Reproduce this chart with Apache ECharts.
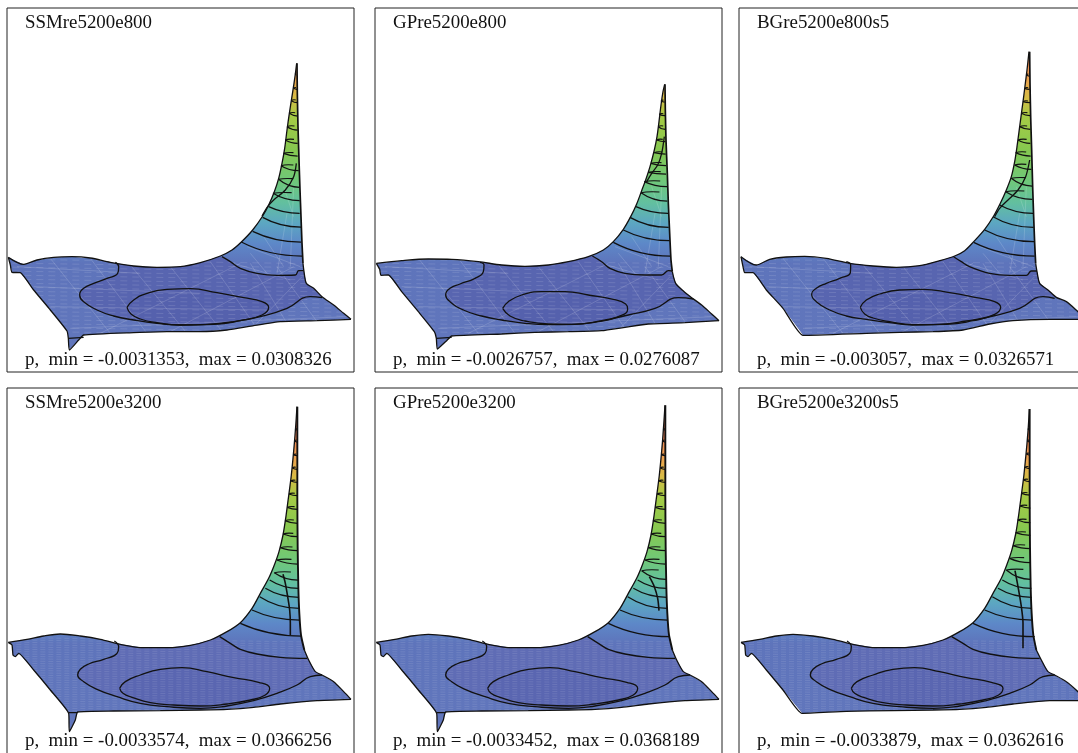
<!DOCTYPE html>
<html><head><meta charset="utf-8">
<style>html,body{margin:0;padding:0;background:#fff;overflow:hidden}#c{width:1078px;height:753px}</style>
<script src="https://cdn.jsdelivr.net/npm/echarts@6/dist/echarts.min.js"></script>
</head><body><div id="c"></div>
<script>
// Shared colour scale: height on the picture -> surface colour
const heightY = [150,230,290,350,450,540,610,670,730,790,1010];
const heightColor = ['#ee7a55','#eea050','#d8bb45','#a5cb45','#86c850','#70c878','#62bfa0','#5ca6c2','#5d88c8','#5e74bb','#6176bc'];

// Panel labels
const titles = ['SSMre5200e800','GPre5200e800','BGre5200e800s5','SSMre5200e3200','GPre5200e3200','BGre5200e3200s5'];
const captions = [
 'p,  min = -0.0031353,  max = 0.0308326','p,  min = -0.0026757,  max = 0.0276087','p,  min = -0.003057,  max = 0.0326571',
 'p,  min = -0.0033574,  max = 0.0366256','p,  min = -0.0033452,  max = 0.0368189','p,  min = -0.0033879,  max = 0.0362616'];

// Panel 1
const top1 = [[24,772],[70,793],[110,780],[160,772],[215,770],[270,774],[330,787],[400,798],[470,802],[540,800],[600,788],[660,768],[695,750],[723,726],[757,690],[787,648],[805,615],[822,575],[835,535],[845,490],[853,445],[860,390],[867,340],[874,295],[881,250],[885,222],[889,190]];
const edge1 = [[890,190],[891,280],[893,380],[896,480],[899,570],[902,650],[905,730],[908,790],[911,815],[918,850],[940,865],[965,890],[1000,915],[1030,940],[1052,958]];
const front1 = [[1052,958],[950,962],[840,965],[760,977],[680,990],[600,995],[500,995],[400,998],[250,1005],[235,1020],[207,1050],[204,1015],[200,993],[150,930],[100,870],[60,818],[35,817],[30,795],[24,772]];
const outer1 = [[345,787],[355,800],[352,820],[320,835],[280,850],[250,865],[238,885],[250,905],[290,930],[340,948],[400,960],[470,970],[540,975],[620,973],[700,965],[780,950],[860,925],[930,890],[965,893]];
const inner1 = [[380,922],[400,900],[440,880],[500,868],[570,866],[650,878],[730,893],[785,905],[805,922],[785,945],[720,962],[640,973],[540,975],[470,968],[420,957],[392,942],[380,922]];
const corner1 = [[665,770],[690,785],[720,805],[770,820],[830,826],[885,825],[895,812],[910,812]];
const back1 = [[888,490],[880,530],[855,570],[820,600],[802,620],[785,648]];
const rungs1 = [[723,726,905,768],[757,694,902,726],[787,652,902,681],[805,620,898,640],[818,580,898,602],[835,538,898,562],[842,497,895,512],[850,460,892,468],[855,420,892,430],[860,380,892,390],[867,340,892,348],[873,302,892,308],[880,265,890,268],[885,222,888,225]];
const crease1 = [[204,1015],[250,1012]];

// Panel 2
const top2 = [[24,790],[100,782],[180,777],[250,778],[330,785],[400,795],[470,799],[540,795],[600,785],[660,770],[705,750],[735,725],[765,688],[787,650],[805,612],[820,572],[832,540],[845,500],[858,450],[866,410],[872,365],[878,315],[884,275],[889,253]];
const edge2 = [[890,253],[891,330],[893,420],[897,520],[900,610],[904,700],[908,780],[912,815],[922,850],[945,873],[970,893],[1000,915],[1030,942],[1052,962]];
const front2 = [[1052,962],[950,968],[840,972],[770,982],[700,992],[600,995],[500,997],[400,1002],[250,1008],[235,1022],[207,1047],[204,1015],[198,995],[150,935],[100,875],[60,825],[38,826],[34,808],[24,790]];
const outer2 = [[335,787],[347,795],[345,815],[320,835],[275,852],[245,865],[232,885],[245,905],[285,930],[340,948],[400,960],[470,970],[540,974],[620,973],[700,962],[780,945],[860,925],[930,893],[975,897]];
const inner2 = [[403,925],[420,905],[460,885],[520,875],[590,875],[660,885],[735,898],[772,912],[778,928],[750,950],[690,965],[610,973],[540,972],[470,963],[425,948],[403,925]];
const corner2 = [[672,768],[700,785],[725,805],[770,820],[830,825],[880,825],[900,812],[912,813]];
const back2 = [[888,410],[880,460],[868,495],[850,520],[835,545]];
const rungs2 = [[735,727,906,768],[765,690,904,722],[785,652,901,682],[803,620,899,640],[818,578,897,603],[828,545,896,560],[840,517,893,522],[848,490,893,497],[858,458,892,462],[865,420,891,425],[870,380,891,388],[873,343,890,347],[878,303,889,306]];
const crease2 = [[204,1015],[250,1012]];

// Panel 3
const top3 = [[24,770],[70,795],[110,778],[160,771],[215,769],[280,775],[350,790],[420,798],[490,802],[560,797],[620,782],[665,768],[695,752],[722,725],[755,688],[782,648],[802,610],[820,570],[835,530],[845,485],[852,440],[860,380],[866,335],[872,290],[877,250],[882,210],[888,155]];
const edge3 = [[890,155],[891,250],[893,350],[896,450],[899,560],[902,650],[905,730],[908,790],[912,815],[920,850],[945,870],[970,892],[1000,905],[1035,935],[1060,958]];
const front3 = [[1060,958],[950,958],[840,962],[770,972],[690,990],[600,995],[500,997],[400,1000],[210,1006],[150,925],[100,870],[60,818],[35,818],[30,800],[24,770]];
const outer3 = [[340,785],[353,795],[352,818],[320,835],[280,850],[250,865],[236,882],[250,905],[290,930],[340,948],[400,958],[470,968],[540,975],[620,973],[700,963],[780,948],[860,925],[930,890],[965,895]];
const inner3 = [[382,922],[400,900],[440,882],[500,870],[570,868],[650,878],[730,893],[785,905],[803,922],[785,943],[720,962],[640,973],[540,974],[470,965],[420,954],[395,942],[382,922]];
const corner3 = [[662,770],[685,785],[710,800],[770,820],[830,826],[880,826],[895,813],[912,813]];
const back3 = [[890,480],[878,530],[855,570],[825,600],[800,625],[785,650]];
const rungs3 = [[722,727,905,768],[755,690,903,725],[780,650,902,682],[800,615,900,640],[818,575,898,598],[835,535,897,558],[845,495,895,508],[848,458,893,468],[855,420,892,430],[860,380,892,388],[865,340,891,347],[870,305,891,308],[875,265,890,268],[880,225,889,228]];
const crease3 = [];

// Panel 4
const top4 = [[24,787],[80,778],[130,768],[180,762],[240,768],[300,778],[360,793],[430,803],[500,803],[570,796],[630,780],[680,755],[720,728],[755,685],[780,640],[805,595],[822,555],[836,515],[848,465],[856,415],[862,370],[868,325],[873,285],[878,235],[882,190],[886,140],[890,80]];
const edge4 = [[891,80],[891,200],[891,350],[892,500],[894,620],[897,700],[902,765],[912,810],[925,840],[945,875],[965,885],[1000,905],[1030,935],[1052,958]];
const front4 = [[1052,958],[950,962],[840,972],[760,982],[680,988],[600,990],[480,992],[340,993],[232,996],[225,1020],[207,1055],[205,1000],[150,930],[100,870],[55,820],[45,830],[38,825],[35,795],[24,787]];
const outer4 = [[342,783],[355,800],[350,820],[310,838],[265,852],[240,868],[232,885],[250,905],[290,928],[350,950],[420,970],[500,980],[600,985],[680,978],[760,962],[830,940],[890,915],[930,890],[965,885]];
const inner4 = [[358,925],[375,905],[420,885],[480,868],[545,863],[620,875],[700,893],[775,907],[808,925],[795,945],[750,960],[680,972],[600,978],[520,975],[450,968],[395,952],[368,940],[358,925]];
const corner4 = [[658,770],[690,790],[720,808],[770,822],[840,832],[920,835]];
const back4 = [[848,583],[855,610],[862,650],[868,690],[870,730],[870,765]];
const rungs4 = [[720,730,905,768],[755,690,898,720],[778,650,897,685],[795,625,896,652],[808,600,895,625],[822,578,893,600],[830,540,892,552],[840,503,892,512],[848,462,892,470],[854,422,892,430],[861,382,892,388],[866,342,891,347],[872,303,891,307],[876,264,891,268],[880,225,891,227],[883,183,891,186],[885,148,891,150]];
const crease4 = [[205,998],[232,998]];

// Panel 5
const top5 = [[24,787],[80,778],[130,768],[180,763],[240,768],[300,778],[360,793],[430,803],[500,803],[570,796],[630,780],[680,755],[720,728],[755,685],[780,640],[805,595],[822,555],[836,515],[848,465],[856,415],[862,370],[868,325],[873,285],[878,235],[882,190],[886,136],[890,76]];
const edge5 = [[891,76],[891,200],[891,350],[892,500],[894,620],[897,700],[902,765],[912,810],[925,840],[945,875],[965,885],[1000,905],[1030,935],[1052,958]];
const front5 = [[1052,958],[950,962],[840,972],[760,982],[680,988],[600,990],[480,992],[340,993],[232,996],[225,1020],[207,1055],[205,1000],[150,930],[100,870],[55,820],[45,830],[38,825],[35,795],[24,787]];
const outer5 = [[342,783],[355,800],[350,820],[310,838],[265,852],[240,868],[232,885],[250,905],[290,928],[350,950],[420,970],[500,980],[600,985],[680,978],[760,962],[830,940],[890,915],[930,890],[965,885]];
const inner5 = [[358,925],[375,905],[420,885],[480,868],[545,863],[620,875],[700,893],[775,907],[808,925],[795,945],[750,960],[680,972],[600,978],[520,975],[450,968],[395,952],[368,940],[358,925]];
const corner5 = [[658,770],[690,790],[720,808],[770,822],[840,832],[920,835]];
const back5 = [[843,590],[858,620],[868,655],[872,692]];
const rungs5 = [[720,730,905,770],[755,690,898,720],[778,650,897,685],[795,625,896,652],[808,600,895,625],[820,572,893,598],[830,540,892,552],[840,503,892,512],[848,462,892,470],[854,422,892,430],[861,382,892,388],[866,342,891,347],[872,303,891,307],[876,264,891,268],[880,225,891,227],[883,183,891,186],[885,148,891,150]];
const crease5 = [[205,998],[232,998]];

// Panel 6
const top6 = [[24,787],[80,778],[130,768],[180,763],[240,768],[300,778],[360,793],[430,803],[500,803],[570,796],[630,780],[680,755],[720,728],[755,685],[780,640],[805,595],[822,553],[836,512],[848,462],[856,412],[862,368],[868,323],[873,283],[878,233],[882,190],[886,140],[889,87]];
const edge6 = [[890,87],[890,200],[890,350],[891,500],[893,620],[896,700],[901,765],[910,810],[925,840],[945,875],[965,885],[1000,905],[1035,935],[1060,962]];
const front6 = [[1060,962],[950,962],[840,972],[760,982],[680,988],[600,990],[480,992],[340,994],[207,1000],[150,930],[100,870],[55,820],[45,830],[38,825],[35,795],[24,787]];
const outer6 = [[342,783],[355,800],[350,820],[310,838],[265,852],[240,868],[232,885],[250,905],[290,928],[350,950],[420,970],[500,980],[600,985],[680,978],[760,962],[830,940],[890,915],[930,890],[965,885]];
const inner6 = [[355,925],[372,905],[420,885],[480,868],[545,863],[620,875],[700,893],[775,907],[810,925],[797,945],[750,960],[680,972],[600,978],[520,975],[450,968],[392,952],[365,940],[355,925]];
const corner6 = [[656,770],[690,790],[720,808],[770,822],[840,832],[920,835]];
const back6 = [[846,572],[855,620],[865,680],[870,730],[870,805]];
const rungs6 = [[720,730,905,770],[755,690,898,720],[778,650,897,685],[795,625,896,652],[808,600,895,625],[820,570,893,598],[830,535,892,548],[840,497,892,506],[848,458,892,466],[854,420,892,428],[861,378,892,384],[866,340,891,345],[872,300,891,305],[876,262,891,266],[880,222,891,225],[883,183,891,186],[885,148,891,150]];
const crease6 = [];

// Light mesh traces on the surface
const meshTop = [[150,775,330,1000],[270,775,440,1000],[390,795,560,1000],[510,800,670,1000],[630,785,770,985],[750,790,860,970],[830,800,950,965],
 [50,800,420,820],[100,860,600,880],[150,920,800,930],[210,985,1040,950],[300,1000,720,790],[500,1000,880,800],[760,980,905,830],
 [830,820,860,640],[870,800,880,560],[750,760,800,820],[790,710,850,800],[850,560,880,650],[700,790,870,840],[740,740,900,800]];
const hatchTop = [785,797,809,821,833,845,857,869,881,893,905,917,929,941,953,965,977,989,1001];
const hatchBottom = [780,787,794,801,808,815,822,829,836,843,850,857,864,871,878,885,892,899,906,913,920,927,934,941,948,955,962,969,976,983,990,997];

const panels = [
 {t:top1,e:edge1,f:front1,o:outer1,i:inner1,c:corner1,b:back1,r:rungs1,k:crease1},
 {t:top2,e:edge2,f:front2,o:outer2,i:inner2,c:corner2,b:back2,r:rungs2,k:crease2},
 {t:top3,e:edge3,f:front3,o:outer3,i:inner3,c:corner3,b:back3,r:rungs3,k:crease3},
 {t:top4,e:edge4,f:front4,o:outer4,i:inner4,c:corner4,b:back4,r:rungs4,k:crease4},
 {t:top5,e:edge5,f:front5,o:outer5,i:inner5,c:corner5,b:back5,r:rungs5,k:crease5},
 {t:top6,e:edge6,f:front6,o:outer6,i:inner6,c:corner6,b:back6,r:rungs6,k:crease6}];
const frameLeft = [7,375,739], frameTop = [8,388], axisLeft = [20,20,18];

const chart = echarts.init(document.getElementById('c'),null,{renderer:'canvas'});
const grid=[],xAxis=[],yAxis=[],series=[],title=[];
const ink='#111';
panels.forEach((p,n)=>{
  const col=n%3,row=n<3?0:1;
  const h=row?372:364;
  grid.push({left:frameLeft[col],top:frameTop[row],width:347,height:h,show:true,borderColor:'#222',borderWidth:1,backgroundColor:'transparent',containLabel:false,outerBoundsMode:'none'});
  xAxis.push({gridIndex:n,type:'value',min:axisLeft[col],max:axisLeft[col]+1041,show:false});
  yAxis.push({gridIndex:n,type:'value',min:24,max:24+h*3,inverse:true,show:false});
  const mesh=row?[]:meshTop, hatch=row?hatchBottom:hatchTop;
  series.push({type:'custom',xAxisIndex:n,yAxisIndex:n,silent:true,z:2,data:[0],
    renderItem:(params,api)=>{
      const C=q=>api.coord(q);
      const outline=p.t.concat(p.e,p.f).map(C);
      const y0=C([0,heightY[0]])[1],y1=C([0,heightY[heightY.length-1]])[1];
      const stops=heightY.map((v,i)=>({offset:(C([0,v])[1]-y0)/(y1-y0),color:heightColor[i]}));
      const kids=[{type:'polygon',shape:{points:outline},style:{fill:new echarts.graphic.LinearGradient(0,y0,0,y1,stops,true)}}];
      kids.push({type:'polygon',shape:{points:p.o.concat(p.c.slice().reverse()).map(C)},style:{fill:row?'#5f6cb5':'#5865b0'}});
      kids.push({type:'polygon',shape:{points:p.i.map(C)},style:{fill:row?'#5a66b1':'#5561ad'}});
      hatch.forEach(v=>{
        const a=C([0,v-8]),b=C([1060,v+8]);
        kids.push({type:'line',shape:{x1:a[0],y1:a[1],x2:b[0],y2:b[1]},style:{stroke:'rgba(255,255,255,'+(row?0.1:0.12)+')',lineWidth:1,lineDash:row?[5,3]:[7,5]}});
      });
      mesh.forEach(m=>{
        const a=C([m[0],m[1]]),b=C([m[2],m[3]]);
        kids.push({type:'line',shape:{x1:a[0],y1:a[1],x2:b[0],y2:b[1]},style:{stroke:'rgba(255,255,255,0.2)',lineWidth:0.8}});
      });
      return {type:'group',clipPath:{type:'polygon',shape:{points:outline}},children:kids};
    }});
  const lineOf=(pts,w,sm)=>({type:'line',xAxisIndex:n,yAxisIndex:n,data:pts,showSymbol:false,symbol:'none',silent:true,z:3,smooth:sm,clip:true,lineStyle:{color:ink,width:w}});
  const lw=1.3;
  series.push(lineOf(p.t,lw,0.3),lineOf(p.e.slice(0,8),row?1.9:1.7,0.2),lineOf(p.e.slice(7),lw,0.25),lineOf(p.f,lw,0.15));
  series.push(lineOf(p.o,lw,0.5),lineOf(p.i,lw,0.5),lineOf(p.c,lw,0.4),lineOf(p.b,row?1.6:lw,0.3));
  if(p.k.length) series.push(lineOf(p.k,lw,0));
  // contour rungs across the spike
  series.push({type:'custom',xAxisIndex:n,yAxisIndex:n,silent:true,z:3,data:[0],
    renderItem:(params,api)=>{
      const C=q=>api.coord(q);
      const kids=[];
      p.r.forEach(r=>{
        const L=C([r[0],r[1]]),R=C([r[2],r[3]]);
        const cp=C([r[0]+(r[2]-r[0])*0.45,r[3]]);
        kids.push({type:'bezierCurve',shape:{x1:L[0],y1:L[1],x2:R[0],y2:R[1],cpx1:cp[0],cpy1:cp[1]},style:{stroke:ink,fill:'none',lineWidth:1.25}});
        if(r[1]<590){
          const T=C([r[0]+(r[2]-r[0])*0.7,r[1]-2]);
          const cq=C([r[0]+(r[2]-r[0])*0.25,r[1]-4]);
          kids.push({type:'bezierCurve',shape:{x1:L[0],y1:L[1],x2:T[0],y2:T[1],cpx1:cq[0],cpy1:cq[1]},style:{stroke:ink,fill:'none',lineWidth:1.1}});
        }
      });
      return {type:'group',children:kids};
    }});
  const font={fontFamily:'Liberation Serif',fontSize:18.9,fontWeight:'normal',color:'#111'};
  title.push({text:titles[n],left:frameLeft[col]+18,top:frameTop[row]+6,padding:0,textStyle:font});
  title.push({text:captions[n],left:frameLeft[col]+18,top:frameTop[row]+(row?344:343),padding:0,textStyle:font});
});
chart.setOption({animation:false,backgroundColor:'#fff',title,grid,xAxis,yAxis,series});
</script></body></html>
